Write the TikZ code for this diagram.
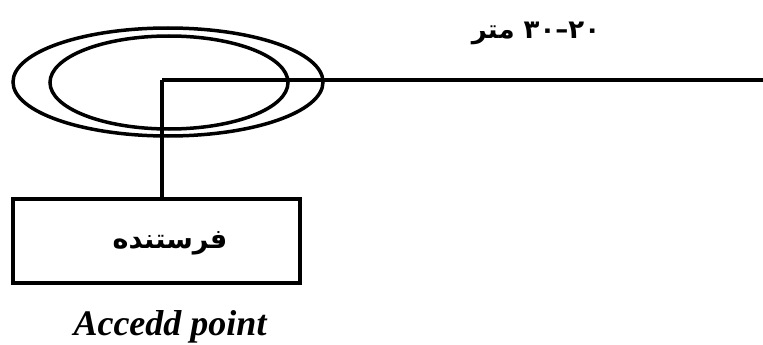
\documentclass[tikz,border=0pt]{standalone}
\usepackage{fontspec}
\setmainfont{Liberation Serif}
\newfontfamily\arabicfont[Script=Arabic]{DejaVu Sans}
\TeXXeTstate=1
\usetikzlibrary{positioning,calc,shapes.geometric}

\tikzset{
    antenna/.style={draw, ellipse, line width=3.5pt, inner sep=0pt},
    wire/.style={line width=3.5pt},
    senderbox/.style={draw, rectangle, line width=3.5pt, minimum width=287pt, minimum height=84pt},
    fatext/.style={font=\arabicfont\bfseries\fontsize{27}{32}\selectfont},
}

\begin{document}
\begin{tikzpicture}[x=1pt,y=-1pt]
    \useasboundingbox (0,0) rectangle (763,345);
    % antenna
    \node[antenna, minimum width=310pt, minimum height=108pt] (outer) at (168,82) {};
    \node[antenna, minimum width=238pt, minimum height=93pt] (inner) at (169,82.5) {};
    \coordinate (hub) at (162,80);
    \coordinate (far) at (763,80);
    \draw[wire] (hub) -- (far);
    % sender
    \node[senderbox] (sender) at (156.5,241) {};
    \node[fatext] (senderlabel) at (170,243) {\beginR فرستنده\endR};
    \draw[wire] (hub) -- (hub |- sender.north);
    % labels
    \node[font=\arabicfont\bfseries\fontsize{26}{30}\selectfont] (range) at (536,33)
        {\beginR\beginL ۲۰\endL{}–\beginL ۳۰\endL{} متر\endR};
    \node[font=\bfseries\itshape\fontsize{36}{40}\selectfont] (apname) at (170,327) {Accedd point};
\end{tikzpicture}
\end{document}
